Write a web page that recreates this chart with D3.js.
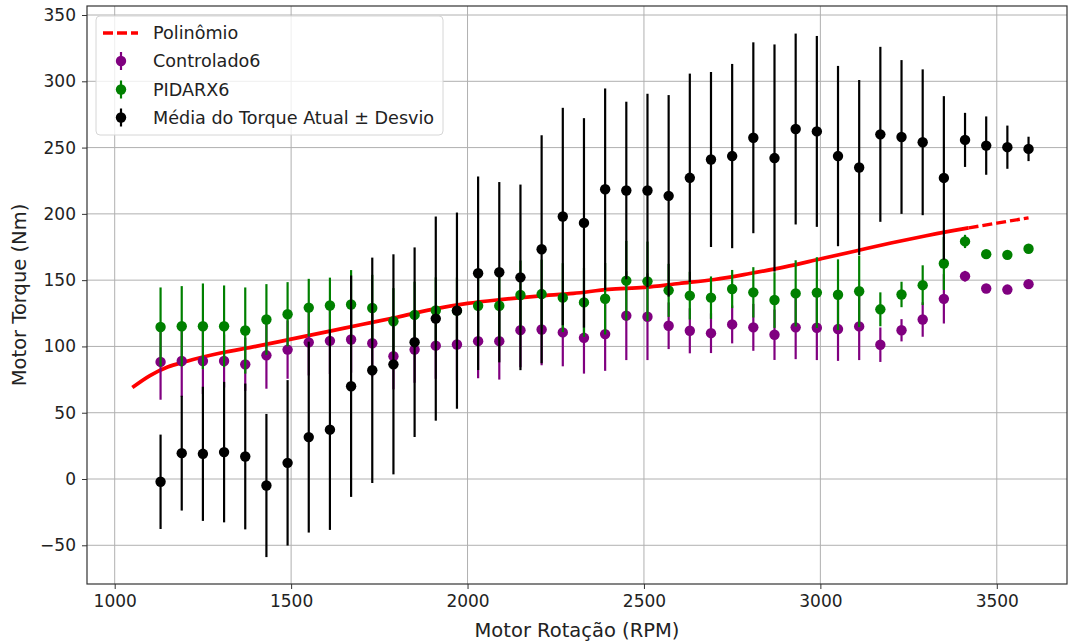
<!DOCTYPE html>
<html>
<head>
<meta charset="utf-8">
<script src="https://cdn.jsdelivr.net/npm/d3@7"></script>
<style>
  html, body { margin: 0; padding: 0; background: #fff; }
  svg { display: block; font-family: "DejaVu Sans", sans-serif; }
</style>
</head>
<body>
<svg id="chart" width="1070" height="643"></svg>
<script>
// Motor speed (RPM) at each measured operating point
const rpm = [1130, 1190, 1250, 1310, 1370, 1430, 1490, 1550, 1610, 1670,
             1730, 1790, 1850, 1910, 1970, 2030, 2090, 2150, 2210, 2270,
             2330, 2390, 2450, 2510, 2570, 2630, 2690, 2750, 2810, 2870,
             2930, 2990, 3050, 3110, 3170, 3230, 3290, 3350, 3410, 3470,
             3530, 3590];

// Controlado6: mean torque and standard deviation (Nm)
const controladoMean = [88.3, 89, 89, 89, 86.5, 93.3, 97.6, 103.1, 104.2, 105.2,
                        102.4, 92.6, 97.6, 100.6, 101.5, 104, 104, 112.3, 112.8, 110.6,
                        106.5, 109.3, 123.2, 122.4, 115.6, 111.8, 110, 116.6, 114.4, 108.8,
                        114.4, 114.1, 113.1, 115.1, 101.3, 112.2, 120.3, 135.9, 153, 143.7,
                        142.9, 147];
const controladoStd = [28.5, 27, 25, 20, 20, 25.2, 22, 25, 25, 25,
                       25, 25, 25, 25, 27, 28, 29, 28, 27, 25.6,
                       27, 27.7, 33.5, 32.7, 17.6, 17, 15, 14.3, 17.7, 19,
                       24, 24.4, 24, 25.4, 13, 8.4, 13, 18.6, 4, 1.5,
                       1.5, 1.5];

// PIDARX6: mean torque and standard deviation (Nm)
const pidarxMean = [114.7, 115.2, 115.2, 115.2, 112, 120.3, 124.3, 129.3, 130.9, 131.6,
                    129, 119, 123.8, 127.1, 127, 130.7, 130.7, 138.8, 139.5, 136.8,
                    133.2, 136, 149.6, 149.1, 142.3, 138.3, 136.8, 143.3, 140.8, 135,
                    140, 140.6, 139, 141.6, 128, 139.2, 146.2, 162.6, 179.2, 169.6,
                    169.1, 173.7];
const pidarxStd = [29.8, 30.3, 32.3, 30.8, 32.5, 26.7, 24.2, 21.7, 21, 26,
                   25, 25, 25, 25, 25, 26, 26, 26, 26, 26,
                   26, 27, 30, 30, 20, 18, 16, 14.4, 19, 21,
                   25, 26.7, 26.7, 27, 12.8, 9.6, 15, 20, 5, 1.5,
                   1.5, 1.5];

// Measured torque: mean and standard deviation (Nm)
const atualMean = [-2.1, 19.5, 19, 20.3, 17, -4.9, 12.2, 31.6, 37.2, 70,
                   82, 86.5, 103.2, 121, 127, 155.2, 156, 152.1, 173.3, 198,
                   193.2, 218.6, 217.6, 217.6, 213.6, 227.2, 241, 243.6, 257.4, 242.1,
                   264, 262.2, 243.6, 235, 260, 258, 254, 227.1, 255.8, 251.5,
                   250.3, 249];
const atualStd = [35.6, 43.3, 50.6, 53, 55, 54, 62.4, 72, 75.6, 83.5,
                  85, 83, 71.5, 77, 74, 73, 68, 70, 86, 82,
                  79, 76, 67, 73, 76, 78.6, 66, 69.5, 72, 85.7,
                  72, 72, 68, 66, 66, 58, 55, 61.7, 20.4, 22,
                  16.3, 9.2];

// Fitted polynomial curve, sampled along the speed range
const polyRpm    = [1050, 1100, 1150, 1200, 1300, 1400, 1500, 1600, 1700, 1800,
                    1900, 2000, 2100, 2200, 2300, 2400, 2500, 2600, 2700, 2800,
                    2900, 3000, 3100, 3200, 3300, 3400, 3420, 3500, 3590];
const polyTorque = [69, 78, 84.5, 88.5, 95, 100, 105.5, 111, 116.5, 122,
                    128, 132.5, 135.5, 138, 140, 143, 144.5, 147.5, 150.5, 155,
                    160, 166, 172, 178, 183.5, 188.5, 189.4, 193, 197];
const polySolidEnd = 3420;   // beyond this the fit is drawn dashed

const xTicks = [1000, 1500, 2000, 2500, 3000, 3500];
const yTicks = [-50, 0, 50, 100, 150, 200, 250, 300, 350];

const seriesNames = ["Polinômio", "Controlado6", "PIDARX6", "Média do Torque Atual ± Desvio"];
const seriesColors = ["red", "purple", "green", "black"];

const svg = d3.select("#chart");
const plot = { left: 87, right: 1067, top: 6, bottom: 584 };

const x = d3.scaleLinear()
  .domain([921.5, 3699])
  .range([plot.left, plot.right]);
const y = d3.scaleLinear()
  .domain([-79.2, 356.8])
  .range([plot.bottom, plot.top]);

// Grid
const grid = svg.append("g").attr("stroke", "#b0b0b0").attr("stroke-width", 1);
grid.selectAll(".gx").data(xTicks).join("line")
  .attr("x1", d => x(d)).attr("x2", d => x(d))
  .attr("y1", plot.top).attr("y2", plot.bottom);
grid.selectAll(".gy").data(yTicks).join("line")
  .attr("x1", plot.left).attr("x2", plot.right)
  .attr("y1", d => y(d)).attr("y2", d => y(d));

// Polynomial fit
const line = d3.line().x(d => x(d[0])).y(d => y(d[1])).curve(d3.curveMonotoneX);
const polyPts = polyRpm.map((r, i) => [r, polyTorque[i]]);
svg.append("path")
  .datum(polyPts.filter(d => d[0] <= polySolidEnd))
  .attr("d", line).attr("fill", "none")
  .attr("stroke", "red").attr("stroke-width", 3.7);
svg.append("path")
  .datum(polyPts.filter(d => d[0] >= polySolidEnd))
  .attr("d", line).attr("fill", "none")
  .attr("stroke", "red").attr("stroke-width", 3.4)
  .attr("stroke-dasharray", "10,4");

// Error-bar series
function drawSeries(means, stds, color) {
  const g = svg.append("g");
  const pts = rpm.map((r, i) => ({ r, m: means[i], s: stds[i] }));
  g.selectAll("line").data(pts).join("line")
    .attr("x1", d => x(d.r)).attr("x2", d => x(d.r))
    .attr("y1", d => y(d.m - d.s)).attr("y2", d => y(d.m + d.s))
    .attr("stroke", color).attr("stroke-width", 2.2);
  g.selectAll("circle").data(pts).join("circle")
    .attr("cx", d => x(d.r)).attr("cy", d => y(d.m))
    .attr("r", 5.2).attr("fill", color);
}
drawSeries(controladoMean, controladoStd, "purple");
drawSeries(pidarxMean, pidarxStd, "green");
drawSeries(atualMean, atualStd, "black");

// Axes
const xAxis = svg.append("g")
  .attr("transform", `translate(0,${plot.bottom})`)
  .call(d3.axisBottom(x).tickValues(xTicks).tickSize(5).tickPadding(6).tickFormat(d3.format("d")));
const yAxis = svg.append("g")
  .attr("transform", `translate(${plot.left},0)`)
  .call(d3.axisLeft(y).tickValues(yTicks).tickSize(5).tickPadding(6)
        .tickFormat(d => d < 0 ? "\u2212" + Math.abs(d) : d));
[xAxis, yAxis].forEach(a => {
  a.select(".domain").remove();
  a.selectAll("text").attr("font-size", 17).attr("fill", "#222")
    .attr("font-family", "DejaVu Sans");
  a.selectAll("line").attr("stroke", "#333");
});

// Frame
svg.append("rect")
  .attr("x", plot.left).attr("y", plot.top)
  .attr("width", plot.right - plot.left).attr("height", plot.bottom - plot.top)
  .attr("fill", "none").attr("stroke", "#333").attr("stroke-width", 1.2);

// Axis titles
svg.append("text")
  .attr("x", (plot.left + plot.right) / 2).attr("y", 637)
  .attr("text-anchor", "middle").attr("font-size", 19.5).attr("fill", "#222")
  .text("Motor Rotação (RPM)");
svg.append("text")
  .attr("transform", `translate(26,${(plot.top + plot.bottom) / 2}) rotate(-90)`)
  .attr("text-anchor", "middle").attr("font-size", 19.5).attr("fill", "#222")
  .text("Motor Torque (Nm)");

// Legend
const lg = svg.append("g").attr("transform", "translate(96,16)");
lg.append("rect")
  .attr("width", 347).attr("height", 119).attr("rx", 4)
  .attr("fill", "white").attr("fill-opacity", 0.8)
  .attr("stroke", "#d6d6d6");
const rowY = [17, 45, 73.5, 101.5];
seriesNames.forEach((name, i) => {
  const row = lg.append("g").attr("transform", `translate(0,${rowY[i]})`);
  if (i === 0) {
    row.append("line").attr("x1", 7).attr("x2", 42).attr("y1", 0).attr("y2", 0)
      .attr("stroke", seriesColors[i]).attr("stroke-width", 3.4)
      .attr("stroke-dasharray", "10,4");
  } else {
    row.append("line").attr("x1", 25).attr("x2", 25).attr("y1", -9).attr("y2", 9)
      .attr("stroke", seriesColors[i]).attr("stroke-width", 2.2);
    row.append("circle").attr("cx", 25).attr("cy", 0).attr("r", 5.2)
      .attr("fill", seriesColors[i]);
  }
  row.append("text").attr("x", 57).attr("y", 6)
    .attr("font-size", 17.6).attr("fill", "#222").text(name);
});
</script>
</body>
</html>
